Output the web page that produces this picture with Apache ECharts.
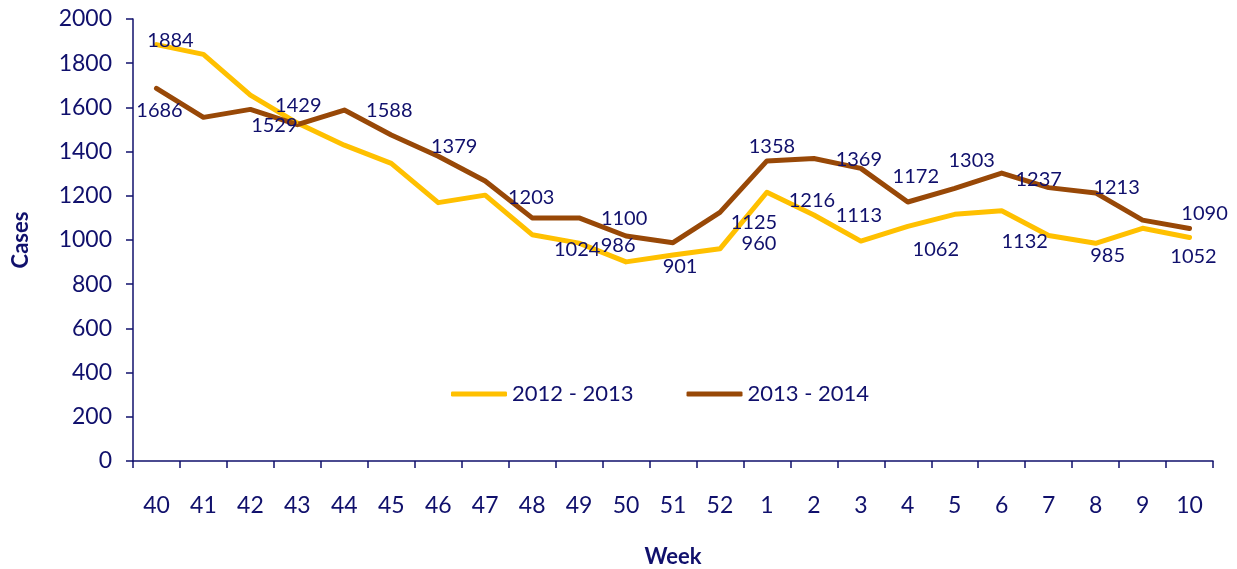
<!DOCTYPE html>
<html>
<head>
<meta charset="utf-8">
<script src="https://cdn.jsdelivr.net/npm/echarts@6/dist/echarts.min.js"></script>
<style>
  html, body { margin: 0; padding: 0; background: #fff; }
  #chart { width: 1237px; height: 569px; }
</style>
</head>
<body>
<div id="chart"></div>
<script>
// weeks of the season
const weeks = ['40', '41', '42', '43', '44', '45', '46', '47', '48', '49', '50', '51', '52',
  '1', '2', '3', '4', '5', '6', '7', '8', '9', '10']

// cases per week
const season1213 = [1884, 1840, 1656, 1529, 1429, 1347, 1169, 1203, 1024, 986, 901, 932, 960,
  1216, 1113, 995, 1062, 1116, 1132, 1020, 985, 1053, 1011]
const season1314 = [1686, 1555, 1591, 1522, 1588, 1475, 1379, 1267, 1100, 1100, 1018, 988, 1125,
  1358, 1369, 1324, 1172, 1234, 1303, 1237, 1213, 1090, 1052]

const yTicks = [0, 200, 400, 600, 800, 1000, 1200, 1400, 1600, 1800, 2000]

// which points carry a value label, and where the label sits relative to the point
const labels1213 = {0: [14, -4], 3: [-23, 2], 4: [-46, -40], 7: [46, 2], 8: [45, 15], 9: [39, 2],
  10: [54, 5], 12: [39, -5], 13: [45, 8], 14: [45, 1], 16: [28, 23], 18: [23, 31], 20: [12, 12]}
const labels1314 = {0: [3, 22], 4: [45, 0], 6: [16, -10], 9: [45, 1], 12: [34, 10], 13: [5, -14],
  14: [45, 1], 16: [8, -25], 18: [-30, -12], 19: [-10, -8], 20: [21, -5], 21: [62, -7], 22: [4, 28]}

const navy = '#10106c'
const font = 'Lato, "Open Sans", sans-serif'

const withLabels = (values, labelMap) => values.map((v, i) => {
  const off = labelMap[i]
  if (!off) return { value: v }
  return {
    value: v,
    label: { show: true, position: 'inside', offset: off }
  }
})

const chart = echarts.init(document.getElementById('chart'))

const lineSeries = (name, values, labelMap, color) => ({
  name,
  type: 'line',
  data: withLabels(values, labelMap),
  symbol: 'circle',
  symbolSize: 2,
  showSymbol: true,
  itemStyle: { color },
  lineStyle: { color, width: 5, cap: 'round', join: 'round' },
  label: {
    show: false,
    color: navy,
    fontFamily: font,
    fontSize: 20,
    formatter: '{c}'
  },
  emphasis: { disabled: true },
  animation: false
})

chart.setOption({
  animation: false,
  textStyle: { fontFamily: font },
  grid: { left: 133, right: 24, top: 19, bottom: 108, outerBoundsMode: 'none', containLabel: false },
  legend: {
    left: 446,
    top: 378,
    itemWidth: 56,
    itemHeight: 5,
    itemGap: 53,
    icon: 'roundRect',
    textStyle: { color: navy, fontSize: 22, fontFamily: font, padding: [0, 0, 0, 0] },
    data: ['2012 - 2013', '2013 - 2014']
  },
  xAxis: {
    type: 'category',
    data: weeks,
    boundaryGap: true,
    name: 'Week',
    nameLocation: 'middle',
    nameGap: 85,
    nameTextStyle: { color: navy, fontSize: 22, fontWeight: 'bold', fontFamily: font },
    axisLine: { lineStyle: { color: navy, width: 1.5 } },
    axisTick: { show: true, alignWithLabel: false, length: 7, lineStyle: { color: navy, width: 1.5 } },
    axisLabel: { color: navy, fontSize: 23, margin: 33, interval: 0 },
    splitLine: { show: false }
  },
  yAxis: {
    type: 'value',
    min: yTicks[0],
    max: yTicks[yTicks.length - 1],
    interval: 200,
    name: 'Cases',
    nameLocation: 'middle',
    nameGap: 101,
    nameTextStyle: { color: navy, fontSize: 22, fontWeight: 'bold', fontFamily: font },
    axisLine: { show: true, lineStyle: { color: navy, width: 1.5 } },
    axisTick: { show: true, length: 7, lineStyle: { color: navy, width: 1.5 } },
    axisLabel: { color: navy, fontSize: 23, margin: 21, formatter: v => String(v) },
    splitLine: { show: false }
  },
  series: [
    lineSeries('2012 - 2013', season1213, labels1213, '#FFC000'),
    lineSeries('2013 - 2014', season1314, labels1314, '#984807')
  ]
})
</script>
</body>
</html>
